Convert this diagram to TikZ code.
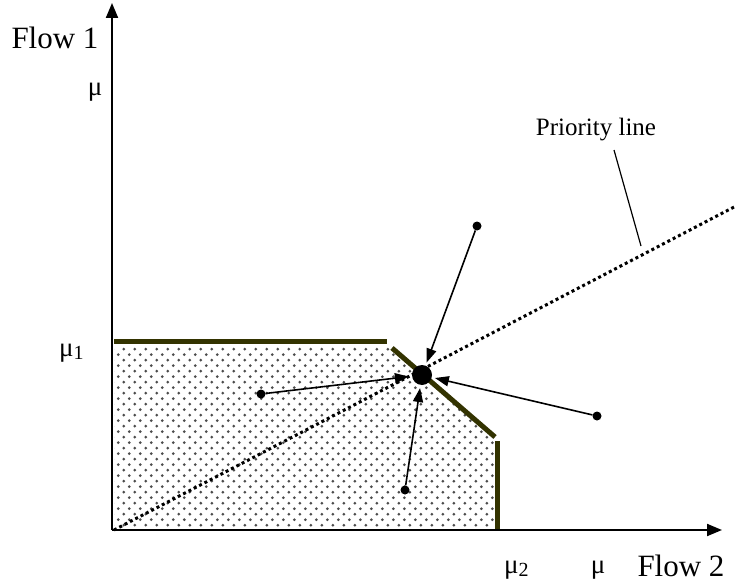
\documentclass[tikz,border=0pt]{standalone}
\usepackage{fontspec}
\setmainfont{Liberation Serif}
\usetikzlibrary{arrows.meta,patterns}
\definecolor{olive}{HTML}{333300}
\pgfdeclarepatternformonly{mydots}{\pgfpoint{-2pt}{-2pt}}{\pgfpoint{13pt}{13pt}}{\pgfpoint{11pt}{11pt}}{%
  \pgfpathcircle{\pgfpoint{2.75pt}{2.75pt}}{1.5pt}\pgfusepath{fill}%
  \pgfpathcircle{\pgfpoint{8.25pt}{8.25pt}}{1.5pt}\pgfusepath{fill}%
}
\begin{document}
\begin{tikzpicture}[x=1pt,y=-1pt,
  lbl/.style={font=\fontsize{25}{28}\selectfont, inner sep=0pt},
  big/.style={font=\fontsize{31}{34}\selectfont, inner sep=0pt},
  mul/.style={font=\fontsize{27}{30}\selectfont, inner sep=0pt},
  axis/.style={line width=2pt, -{Triangle[length=15pt,width=12pt]}},
  bound/.style={line width=5pt, color=olive},
  pt/.style={circle, fill=black, inner sep=0pt, minimum size=9pt},
  con/.style={line width=1.6pt, -{Triangle[length=14pt,width=10pt]}, shorten >=3pt}]
\useasboundingbox (0,0) rectangle (736,583);
% shaded region
\fill[pattern=mydots, pattern color=black!70] (114,347) -- (390,347) -- (494,437) -- (494,529) -- (114,529) -- cycle;
% axes
\coordinate (O) at (112,530);
\coordinate (ytop) at (112,3);
\coordinate (xend) at (722,530);
\draw[axis] (O) -- (ytop);
\draw[axis] (O) -- (xend);
% boundary
\draw[bound] (114,341) -- (387,341);
\draw[bound] (392,348) -- (495,437);
\draw[bound] (497,441) -- (497,529);
% priority line
\coordinate (p0) at (114,530);
\coordinate (p1) at (736,206);
\draw[line width=3pt, dash pattern=on 3pt off 3pt] (p0) -- (p1);
% labels
\node[big] (flow1) at (55,38) {Flow 1};
\node[mul] (mu) at (95,92) {μ};
\node[mul, anchor=west] (mu1) at (59,353) {μ\raisebox{-3pt}{\fontsize{20}{22}\selectfont 1}};
\node[mul, anchor=west] (mu2) at (504,570) {μ\raisebox{-3pt}{\fontsize{20}{22}\selectfont 2}};
\node[mul] (mux) at (598,570) {μ};
\node[big] (flow2) at (681,566) {Flow 2};
\node[lbl] (prio) at (596,130) {Priority line};
\coordinate (leadA) at (614,150);
\coordinate (leadB) at (641,246);
\draw[line width=1.2pt] (leadA) -- (leadB);
% points
\node[circle, fill=black, inner sep=0pt, minimum size=20pt] (c) at (422,375) {};
\node[pt] (a) at (477,226) {};
\node[pt] (b) at (261,394) {};
\node[pt] (d) at (597,416) {};
\node[pt] (e) at (405,490) {};
\draw[con] (a) -- (c);
\draw[con] (b) -- (c);
\draw[con] (d) -- (c);
\draw[con] (e) -- (c);
\end{tikzpicture}
\end{document}
